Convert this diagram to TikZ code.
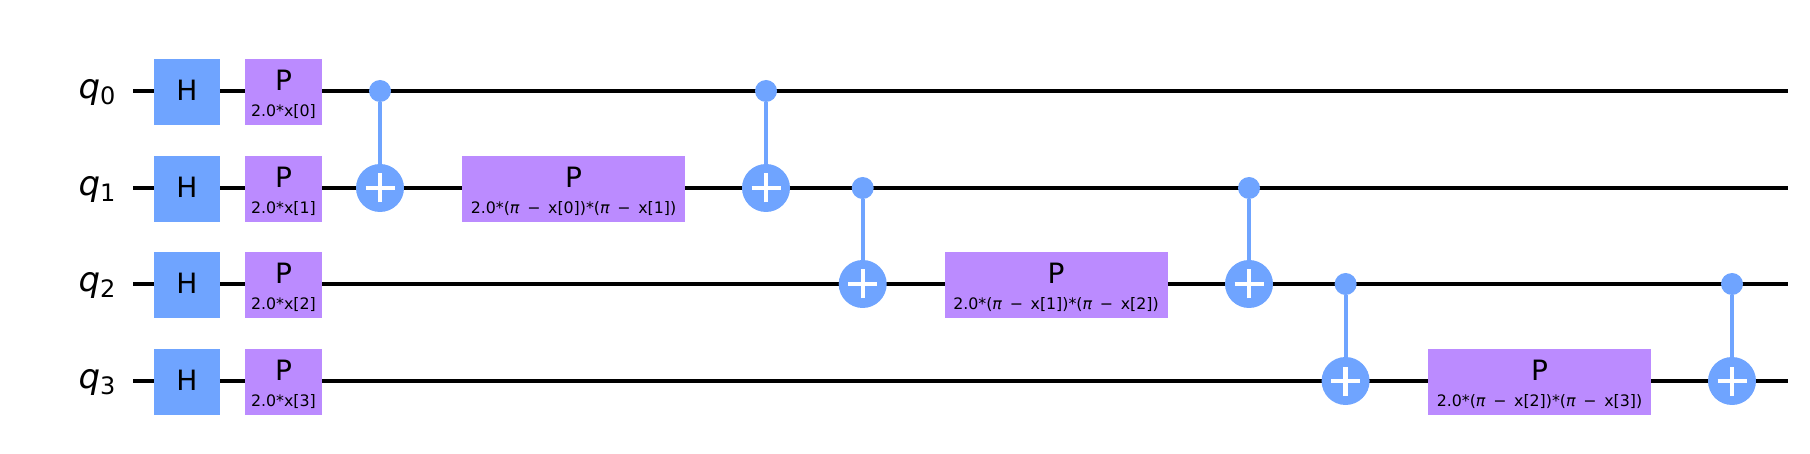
\documentclass[tikz,border=0pt]{standalone}
\usepackage{fontspec}
\setmainfont{DejaVu Sans}
\usepackage{xcolor}
\definecolor{hblue}{HTML}{6FA4FF}
\definecolor{ppurple}{HTML}{BB8BFF}
\usetikzlibrary{positioning}
\tikzset{
  wire/.style={line width=2.2pt, black},
  hgate/.style={rectangle, fill=hblue, minimum width=33pt, minimum height=33pt, inner sep=0pt, text depth=1.5pt, font=\fontsize{14}{13}\selectfont},
  pgate/.style={rectangle, fill=ppurple, minimum width=#1, minimum height=33pt, inner sep=0pt, align=center, font=\fontsize{14}{13}\selectfont},
  qlabel/.style={inner sep=0pt, font=\fontsize{17}{18}\selectfont},
  ctrl/.style={circle, fill=hblue, minimum size=11pt, inner sep=0pt},
  target/.style={circle, fill=hblue, minimum size=24pt, inner sep=0pt,
    path picture={
      \draw [white, line width=2.2pt] (path picture bounding box.center) +(-7.25pt,0) -- +(7.25pt,0);
      \draw [white, line width=2.2pt] (path picture bounding box.center) +(0,-7.25pt) -- +(0,7.25pt);
    }},
  cnot/.style={hblue, line width=2pt}
}
\newcommand{\plabel}[1]{\rule{0pt}{12.6pt}P\\{\fontsize{7.9}{13}\selectfont #1}}
\newcommand{\pidiff}[1]{(\textit{π}\kern1.3pt{} −\kern1.3pt{} x[#1])}
\begin{document}
\begin{tikzpicture}
    [x=0.5pt, y=-0.5pt]
    \useasboundingbox (0, 0) rectangle (1810, 454);

    % wires first, the gates sit on top
    \foreach \i/\y in {0/91, 1/188, 2/284, 3/381} {
      \coordinate (w\i) at (133, \y);
      \coordinate (e\i) at (1788, \y);
      \draw [wire] (w\i) -- (e\i);
      \node (q\i) [qlabel] at (97, \y + 1) {\textit{q}\raisebox{-3pt}{\fontsize{12}{12}\selectfont \i}};
      \node (h\i) [hgate] at (187, \y + 1) {H};
      \node (p\i) [pgate=38.5pt] at (283.5, \y + 1) {\plabel{2.0*x[\i]}};
    }

    \node (zz0) [pgate=111.5pt] at (573.5, 189) {\plabel{2.0*\pidiff{0}*\pidiff{1}}};
    \node (zz1) [pgate=111.5pt] at (1056, 285) {\plabel{2.0*\pidiff{1}*\pidiff{2}}};
    \node (zz2) [pgate=111.5pt] at (1539.5, 382) {\plabel{2.0*\pidiff{2}*\pidiff{3}}};

    % control, target pairs from left to right
    \foreach \n/\x/\a/\b in {0/380/0/1, 1/766/0/1, 2/862.7/1/2, 3/1249/1/2, 4/1345.6/2/3, 5/1732/2/3} {
      \node (c\n) [ctrl] at (\x, 0 |- w\a) {};
      \node (t\n) [target] at (\x, 0 |- w\b) {};
      \draw [cnot] (c\n) -- (t\n);
    }
\end{tikzpicture}
\end{document}
